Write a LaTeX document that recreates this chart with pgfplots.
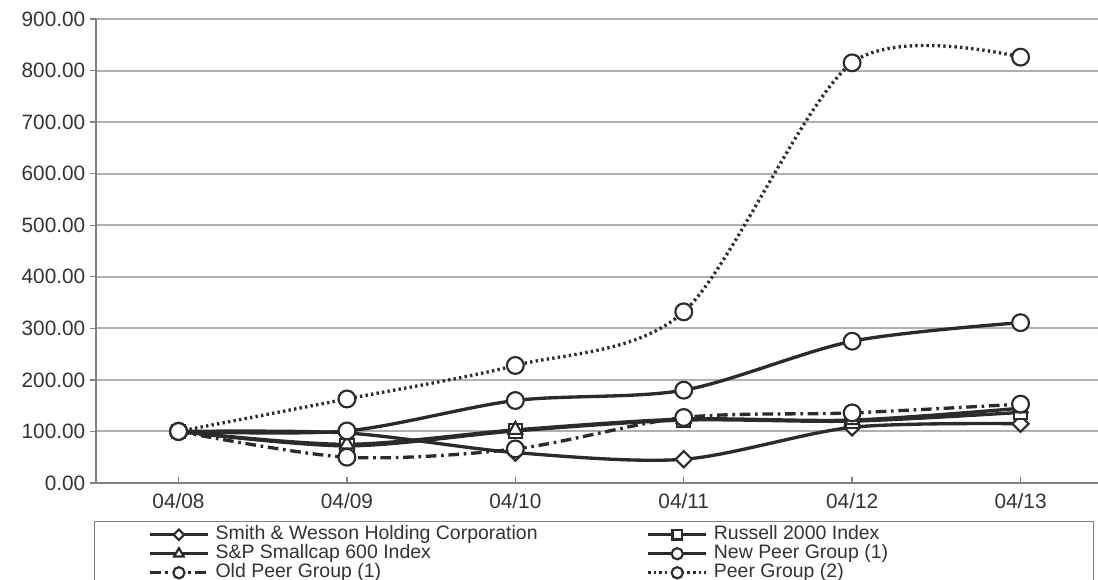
\documentclass[border=0pt]{standalone}
\usepackage{fontspec}
\setmainfont{Liberation Sans}
\usepackage{pgfplots}
\pgfplotsset{compat=1.18}
\definecolor{ln}{HTML}{2B2B2B}
\definecolor{gridc}{HTML}{B0B0B0}
\definecolor{axc}{HTML}{808080}
\definecolor{txt}{HTML}{333333}
\begin{document}
\begin{tikzpicture}
\useasboundingbox (0,0) rectangle (823.5pt,435pt);
\begin{axis}[
  at={(72pt,72.75pt)}, anchor=south west,
  scale only axis, width=751.5pt, height=348pt,
  xmin=-0.49, xmax=5.46, ymin=0, ymax=900,
  xtick={0,1,2,3,4,5},
  xticklabels={04/08,04/09,04/10,04/11,04/12,04/13},
  ytick={0,100,...,900},
  /pgf/number format/fixed, /pgf/number format/fixed zerofill,
  /pgf/number format/precision=2, /pgf/number format/assume math mode=true,
  axis x line*=bottom, axis y line*=left,
  axis line style={axc, line width=1.5pt, -},
  ymajorgrids, grid style={gridc, line width=1.5pt},
  tick align=outside, major tick length=4.5pt,
  tick style={axc, line width=1pt},
  xtick style={yshift=4.5pt},
  ticklabel style={font=\fontsize{15.6}{18}\selectfont, text=txt},
  every axis plot post/.append style={line width=2.5pt, draw=ln, smooth},
  legend columns=2,
  legend image code/.code={\draw[mark repeat=2, mark phase=2, #1] plot coordinates {(0pt,0pt) (21.75pt,0pt) (43.5pt,0pt)};},
  legend style={at={(axis description cs:-0.002,-0.0819)}, anchor=north west,
    draw=axc, inner xsep=40.5pt, inner ysep=3pt,
    font=\fontsize{14.6}{16}\selectfont, text=txt,
    nodes={inner sep=0pt, text height=10.5pt, text depth=3.75pt},
    /tikz/every odd column/.append style={column sep=4.5pt},
    /tikz/every even column/.append style={column sep=0pt},
    row sep=0pt, cells={anchor=west}},
]
% Smith & Wesson
\addplot[solid, mark=square*, mark size=4.3pt,
  mark options={solid, rotate=45, fill=white, draw=ln, line width=1.6pt},
  legend image post style={mark size=2.8pt}]
  coordinates {(0,100) (1,97) (2,59) (3,46) (4,108) (5,115)};
\addlegendentry{\makebox[323.25pt][l]{Smith \& Wesson Holding Corporation}}
% Russell 2000
\addplot[solid, mark=square*, mark size=5pt,
  mark options={solid, fill=white, draw=ln, line width=1.6pt},
  legend image post style={mark size=3.6pt}]
  coordinates {(0,100) (1,72) (2,101) (3,122) (4,120) (5,137)};
\addlegendentry{\makebox[243.75pt][l]{Russell 2000 Index}}
% S&P Smallcap 600
\addplot[solid, mark=triangle*, mark size=6pt,
  mark options={solid, fill=white, draw=ln, line width=1.6pt},
  legend image post style={mark size=4.2pt}]
  coordinates {(0,100) (1,75) (2,103) (3,124) (4,122) (5,145)};
\addlegendentry{\makebox[323.25pt][l]{S\&P Smallcap 600 Index}}
% New Peer Group
\addplot[solid, mark=*, mark size=6.3pt,
  mark options={solid, fill=white, draw=ln, line width=1.6pt},
  legend image post style={mark size=4.2pt}]
  coordinates {(0,100) (1,101) (2,160) (3,180) (4,275) (5,311)};
\addlegendentry{\makebox[243.75pt][l]{New Peer Group (1)}}
% Old Peer Group
\addplot[dash pattern=on 8pt off 3.5pt on 2pt off 3.5pt, mark=*, mark size=6.3pt,
  mark options={solid, fill=white, draw=ln, line width=1.6pt},
  legend image post style={mark size=4.2pt}]
  coordinates {(0,100) (1,50) (2,66) (3,127) (4,136) (5,153)};
\addlegendentry{\makebox[323.25pt][l]{Old Peer Group (1)}}
% Peer Group (2)
\addplot[dash pattern=on 1.8pt off 2.4pt, mark=*, mark size=6.3pt,
  mark options={solid, fill=white, draw=ln, line width=1.6pt},
  legend image post style={mark size=4.2pt}]
  coordinates {(0,100) (1,163) (2,228) (3,332) (4,815) (5,826)};
\addlegendentry{\makebox[243.75pt][l]{Peer Group (2)}}
\end{axis}
\end{tikzpicture}
\end{document}
